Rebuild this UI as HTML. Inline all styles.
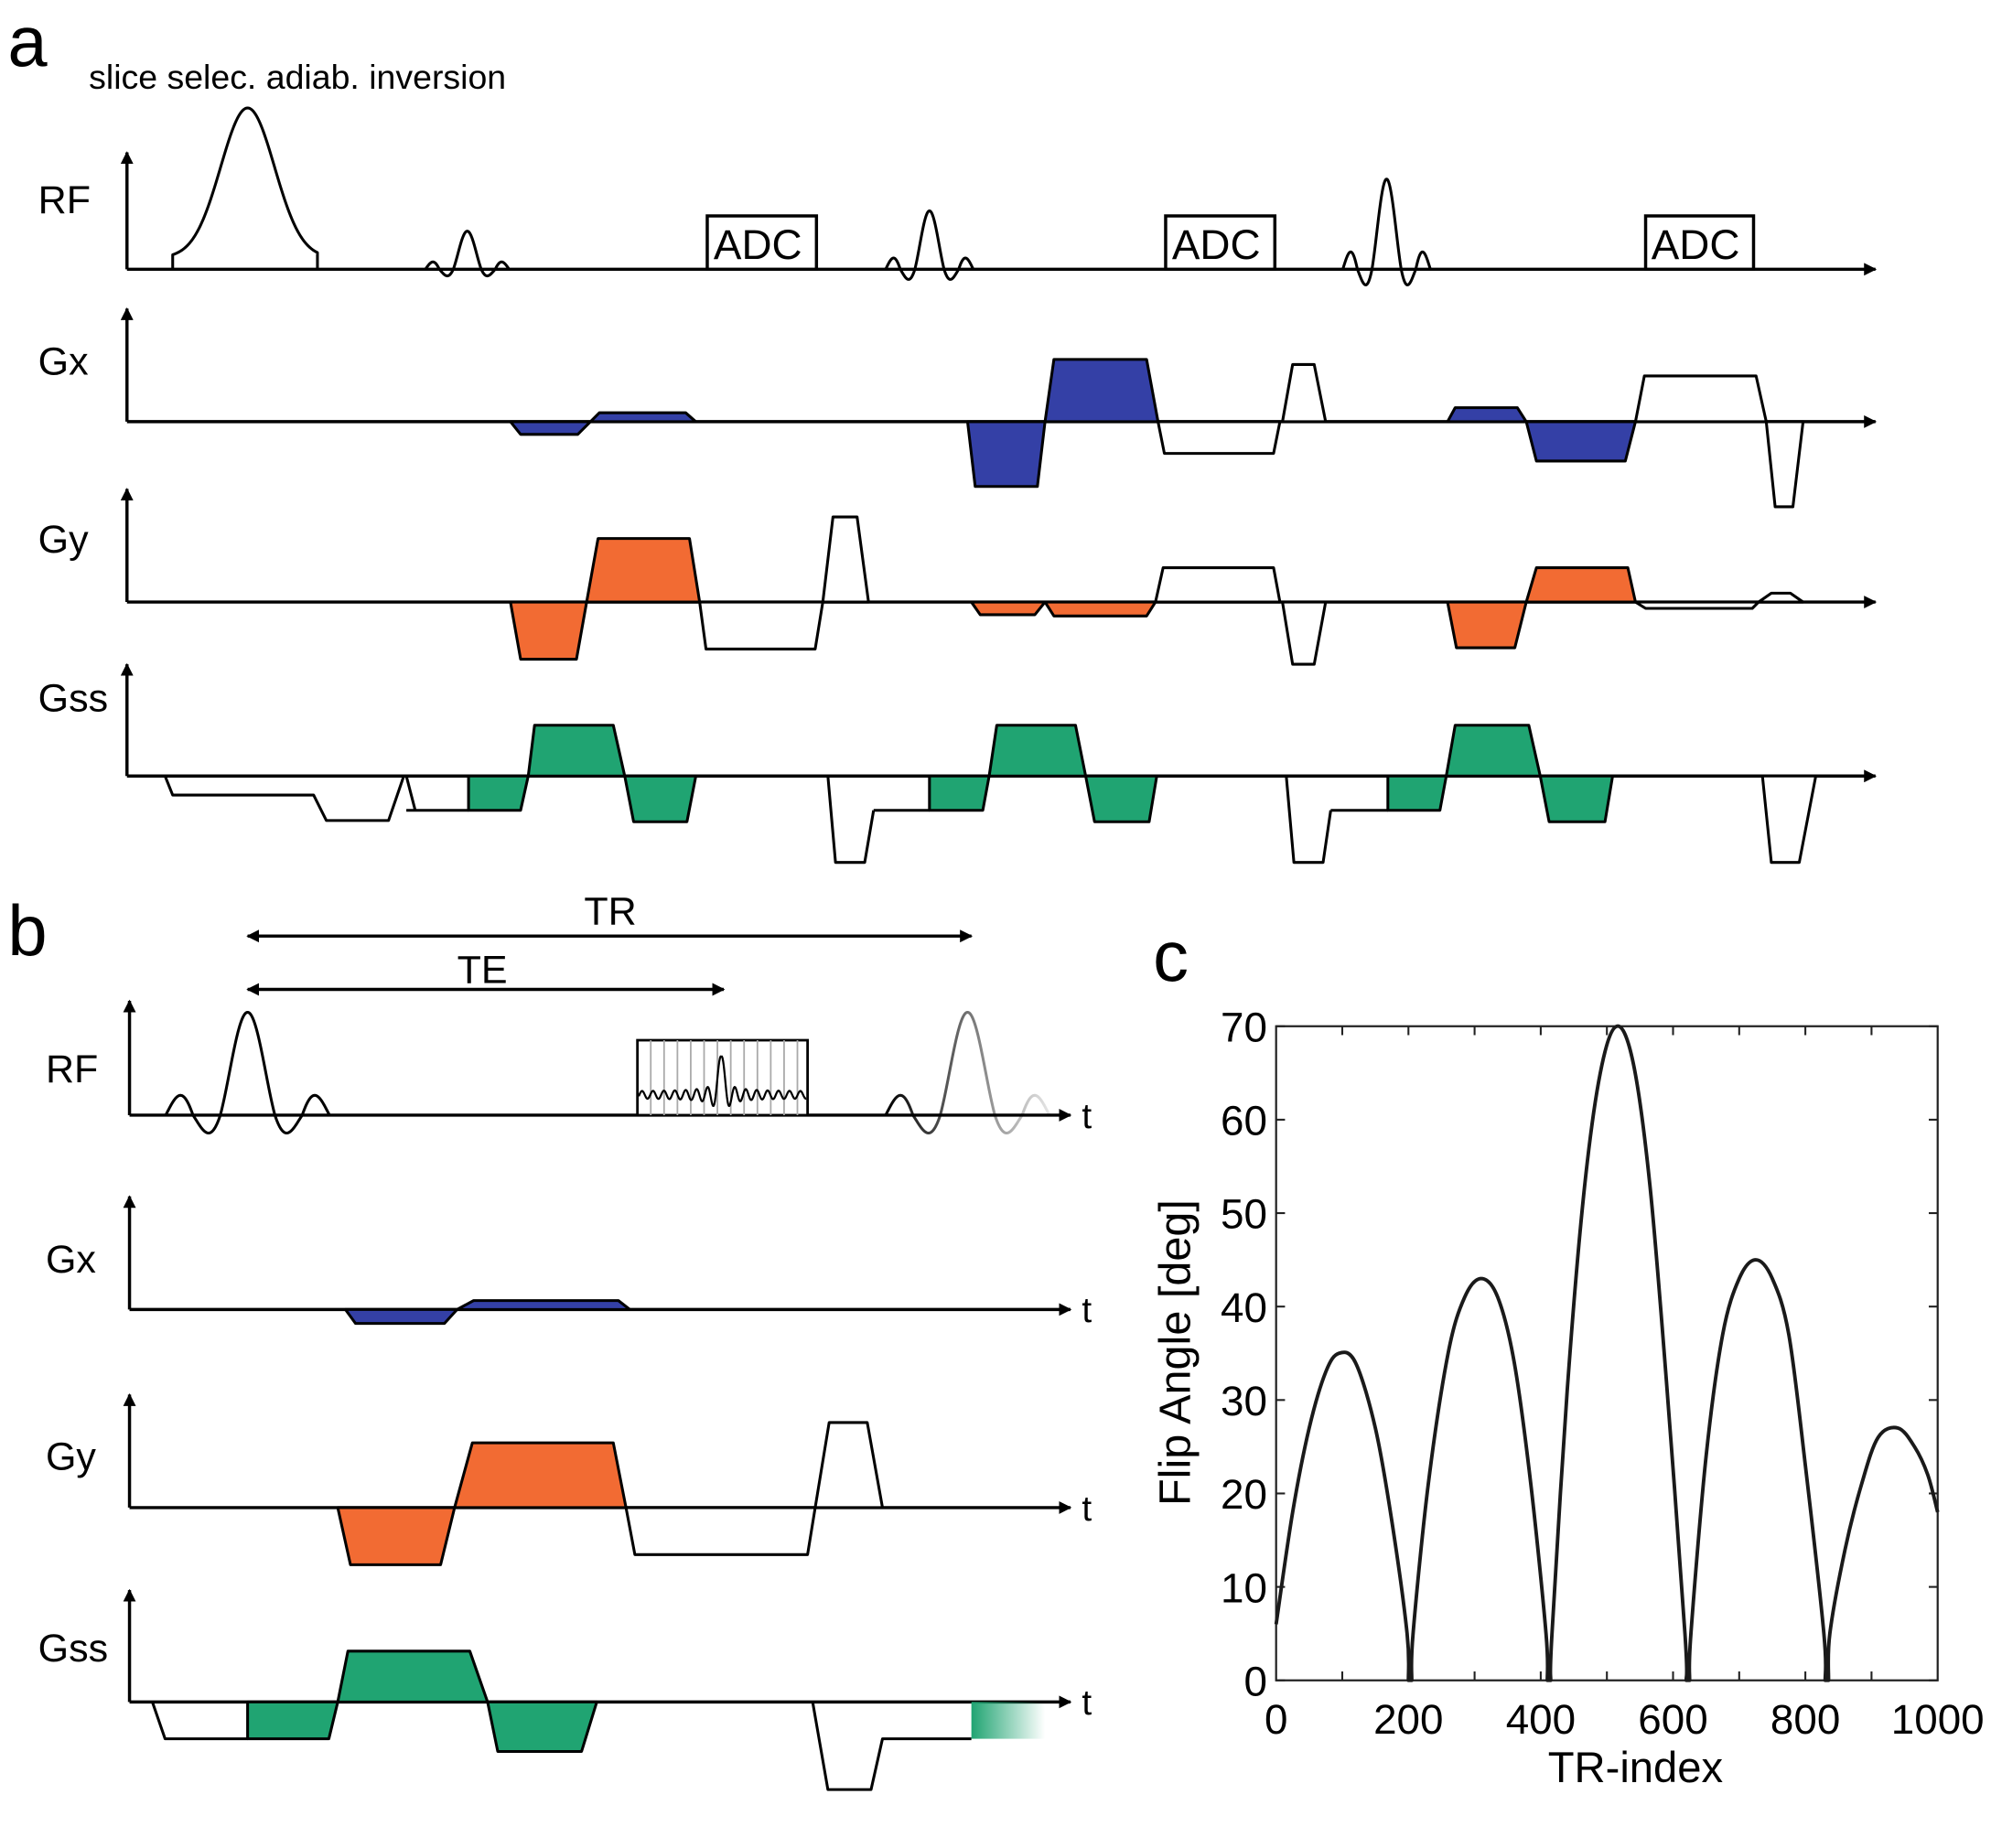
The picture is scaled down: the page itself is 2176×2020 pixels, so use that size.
<!DOCTYPE html>
<html><head><meta charset="utf-8"><style>
html,body{margin:0;padding:0;background:#fff}
svg{display:block;font-family:"Liberation Sans",Arial,sans-serif}
</style></head><body>
<svg id="fig" width="2176" height="2020" viewBox="0 0 1568 1455" preserveAspectRatio="none" xmlns="http://www.w3.org/2000/svg">
<defs>
<marker id="ar" markerWidth="10" markerHeight="10" refX="9" refY="5" orient="auto" markerUnits="userSpaceOnUse"><path d="M0,0 L10,5 L0,10 z" fill="#000"/></marker>
<marker id="al" markerWidth="10" markerHeight="10" refX="1" refY="5" orient="auto" markerUnits="userSpaceOnUse"><path d="M10,0 L0,5 L10,10 z" fill="#000"/></marker>
<linearGradient id="fadeG" x1="0" x2="1"><stop offset="0" stop-color="#20a472"/><stop offset="1" stop-color="#20a472" stop-opacity="0"/></linearGradient>
<linearGradient id="fadeK" x1="0" x2="1"><stop offset="0" stop-color="#000"/><stop offset="1" stop-color="#000" stop-opacity="0.1"/></linearGradient>
</defs>
<g id="pa"></g>
<g id="pb"></g>
<g id="pc"></g>
</svg>
<script>
// Panel c data
const trIndex = [0,25,50,75,95,120,150,175,198,200,205,207,230,260,285,310,335,360,385,408,410,415,417,440,465,490,515,540,565,590,618,620,625,627,650,675,700,725,750,775,800,828,830,835,837,860,885,910,940,965,985,1000];
const flipAngle = [6,18,27,33,35,34,27,17,5,0,0,5,21,35,41,43,41,34,21,5,0,0,5,31,52,65,70,66,53,32,5,0,0,5,24,37,43,45,43,37,23,5,0,0,5,14,21,26,27,25,22,18];
const xTickLabels = [0,200,400,600,800,1000];
const yTickLabels = [0,10,20,30,40,50,60,70];

const NS="http://www.w3.org/2000/svg";
function mk(parent,tag,attrs,name,text){
  const e=document.createElementNS(NS,tag);
  for(const k in attrs)e.setAttribute(k,attrs[k]);
  
  
  if(text!==undefined)e.textContent=text;
  parent.appendChild(e);return e;
}
const BLUE="#3440a6",ORANGE="#f26b33",GREEN="#20a472";
const pa=document.getElementById('pa'),pb=document.getElementById('pb'),pc=document.getElementById('pc');

function axis(g,x0,y0,top,xend,name,tlabel){
  mk(g,'line',{x1:x0,y1:y0,x2:x0,y2:top,stroke:'#000','stroke-width':2.5,'marker-end':'url(#ar)'},name+'-y-axis');
  mk(g,'line',{x1:x0,y1:y0,x2:xend,y2:y0,stroke:'#000','stroke-width':2.5,'marker-end':'url(#ar)'},name+'-time-axis');
  if(tlabel)mk(g,'text',{x:xend+9,y:y0+10,'font-size':28},name+'-t-label','t');
}
function poly(g,pts,fill,name){
  mk(g,'polygon',{points:pts.map(p=>p.join(',')).join(' '),fill:fill,stroke:'#000','stroke-width':2.2,'stroke-linejoin':'round'},name);
}
function pline(g,pts,name,extra){
  const a={points:pts.map(p=>p.join(',')).join(' '),fill:'none',stroke:'#000','stroke-width':2.2,'stroke-linejoin':'round'};
  Object.assign(a,extra||{});
  mk(g,'polyline',a,name);
}
function sinc(g,cx,base,A,w,name,extra){
  const pts=[];const L=3*w;
  for(let x=-L;x<=L;x+=0.5){const u=x/w;const au=Math.abs(u);let s=u===0?1:Math.sin(Math.PI*u)/(Math.PI*u);
    s*= au<=1?1:(au<=2?0.8:1.5);pts.push([cx+x,base-A*s]);}
  pline(g,pts,name,extra);
}
function lbl(g,x,y,s,t,name){mk(g,'text',{x:x,y:y,'font-size':s},name,t);}

// ---------- Panel a ----------
lbl(pa,6,52,56,'a','panel-a-letter');
lbl(pa,70,70,27,'slice selec. adiab. inversion','inversion-label');
lbl(pa,30,168,31,'RF','a-rf-label');lbl(pa,30,295,31,'Gx','a-gx-label');
lbl(pa,30,435,31,'Gy','a-gy-label');lbl(pa,30,560,31,'Gss','a-gss-label');
axis(pa,100,212,120,1477,'a-rf');axis(pa,100,332,243,1477,'a-gx');
axis(pa,100,474,385,1477,'a-gy');axis(pa,100,611,523,1477,'a-gss');
(function(){const p=[[136,212],[136,203]];for(let x=136;x<=250;x+=1)p.push([x,203-118*Math.exp(-Math.pow((x-195)/30,2))]);p.push([250,212]);pline(pa,p,'adiabatic-inversion-pulse');})();
sinc(pa,368,212,30,11,'a-rf-pulse-1');sinc(pa,732,212,46,11.5,'a-rf-pulse-2');sinc(pa,1092,212,71,11.5,'a-rf-pulse-3');
[[557,643],[918,1004],[1296,1381]].forEach((b,i)=>{
  mk(pa,'rect',{x:b[0],y:170,width:b[1]-b[0],height:42,fill:'#fff',stroke:'#000','stroke-width':2.5},'adc-box-'+(i+1));
  lbl(pa,(b[0]+b[1])/2-38,204,33,'ADC','adc-label-'+(i+1));
});
poly(pa,[[402,332],[410,342],[455,342],[465,332]],BLUE,'a-gx-prephase-1');
poly(pa,[[465,332],[472,325],[540,325],[548,332]],BLUE,'a-gx-rewind-1');
poly(pa,[[762,332],[768,383],[817,383],[823,332]],BLUE,'a-gx-prephase-2');
poly(pa,[[823,332],[830,283],[903,283],[912,332]],BLUE,'a-gx-rewind-2');
poly(pa,[[912,332],[917,357],[1003,357],[1008,332]],'#fff','a-gx-readout-2');
poly(pa,[[1010,332],[1018,287],[1035,287],[1044,332]],'#fff','a-gx-spoiler-2');
poly(pa,[[1140,332],[1146,321],[1195,321],[1202,332]],BLUE,'a-gx-prephase-3');
poly(pa,[[1202,332],[1210,363],[1280,363],[1288,332]],BLUE,'a-gx-rewind-3');
poly(pa,[[1288,332],[1295,296],[1383,296],[1391,332]],'#fff','a-gx-readout-3');
poly(pa,[[1391,332],[1398,399],[1412,399],[1420,332]],'#fff','a-gx-spoiler-3');
poly(pa,[[402,474],[410,519],[454,519],[462,474]],ORANGE,'a-gy-prephase-1');
poly(pa,[[462,474],[471,424],[543,424],[551,474]],ORANGE,'a-gy-rewind-1');
poly(pa,[[551,474],[556,511],[642,511],[648,474]],'#fff','a-gy-readout-1');
poly(pa,[[648,474],[656,407],[675,407],[684,474]],'#fff','a-gy-spoiler-1');
poly(pa,[[765,474],[772,484],[815,484],[823,474]],ORANGE,'a-gy-prephase-2');
poly(pa,[[823,474],[830,485],[903,485],[910,474]],ORANGE,'a-gy-rewind-2');
poly(pa,[[910,474],[916,447],[1003,447],[1008,474]],'#fff','a-gy-readout-2');
poly(pa,[[1010,474],[1018,523],[1035,523],[1044,474]],'#fff','a-gy-spoiler-2');
poly(pa,[[1140,474],[1147,510],[1193,510],[1202,474]],ORANGE,'a-gy-prephase-3');
poly(pa,[[1202,474],[1210,447],[1282,447],[1288,474]],ORANGE,'a-gy-rewind-3');
poly(pa,[[1288,474],[1296,479],[1380,479],[1385,474]],'#fff','a-gy-readout-3');
poly(pa,[[1385,474],[1395,467],[1410,467],[1420,474]],'#fff','a-gy-spoiler-3');
pline(pa,[[130,611],[136,626],[247,626],[257,646],[306,646],[318,611]],'a-gss-inversion-gradient');
[[320,369,410,416,421,483,492,499,541,548],[688,732,774,779,785,847,855,862,905,911],[1048,1093,1134,1139,1146,1204,1213,1220,1264,1270]].forEach((s,i)=>{
  pline(pa,[[s[0],638],[s[1],638]],'a-gss-spoil-flat-'+(i+1));
  poly(pa,[[s[1],611],[s[1],638],[s[2],638],[s[3],611]],GREEN,'a-gss-rephase-'+(i+1));
  poly(pa,[[s[3],611],[s[4],571],[s[5],571],[s[6],611]],GREEN,'a-gss-slice-select-'+(i+1));
  poly(pa,[[s[6],611],[s[7],647],[s[8],647],[s[9],611]],GREEN,'a-gss-refocus-'+(i+1));
});
pline(pa,[[320,611],[327,638]],'a-gss-ramp-1');
pline(pa,[[652,611],[658,679],[681,679],[688,638]],'a-gss-spoiler-2');
pline(pa,[[1013,611],[1019,679],[1042,679],[1048,638]],'a-gss-spoiler-3');
poly(pa,[[1388,611],[1395,679],[1417,679],[1430,611]],'#fff','a-gss-spoiler-4');

// ---------- Panel b ----------
lbl(pb,6,752,56,'b','panel-b-letter');
mk(pb,'line',{x1:195,y1:737,x2:765,y2:737,stroke:'#000','stroke-width':2.5,'marker-start':'url(#al)','marker-end':'url(#ar)'},'tr-arrow');
lbl(pb,460,728,31,'TR','tr-label');
mk(pb,'line',{x1:195,y1:779,x2:570,y2:779,stroke:'#000','stroke-width':2.5,'marker-start':'url(#al)','marker-end':'url(#ar)'},'te-arrow');
lbl(pb,360,774,31,'TE','te-label');
lbl(pb,36,852,31,'RF','b-rf-label');lbl(pb,36,1002,31,'Gx','b-gx-label');
lbl(pb,36,1157,31,'Gy','b-gy-label');lbl(pb,30,1308,31,'Gss','b-gss-label');
axis(pb,102,878,788,843,'b-rf',true);axis(pb,102,1031,942,843,'b-gx',true);
axis(pb,102,1187,1098,843,'b-gy',true);axis(pb,102,1340,1252,843,'b-gss',true);
sinc(pb,195,878,81,21.5,'b-rf-pulse');
sinc(pb,762,878,81,21.5,'b-rf-pulse-next',{stroke:'url(#fadeK)'});
mk(pb,'rect',{x:502,y:819,width:134,height:59,fill:'#fff',stroke:'#000','stroke-width':2},'adc-window');
for(let i=1;i<13;i++)mk(pb,'line',{x1:502+i*10.5,y1:819,x2:502+i*10.5,y2:878,stroke:'#aaa','stroke-width':1.3},'adc-sample-line');
(function(){const p=[];for(let x=503;x<=635;x+=0.5){const u=(x-568)/4.3;const s=u===0?1:Math.sin(Math.PI*u)/(Math.PI*u);p.push([x,862-30*s*(1+0.25*Math.abs(u))]);}pline(pb,p,'echo-signal',{'stroke-width':1.6});})();
poly(pb,[[272,1031],[280,1042],[350,1042],[360,1031]],BLUE,'b-gx-prephase');
poly(pb,[[360,1031],[373,1024],[487,1024],[496,1031]],BLUE,'b-gx-rewind');
poly(pb,[[266,1187],[276,1232],[347,1232],[358,1187]],ORANGE,'b-gy-prephase');
poly(pb,[[358,1187],[372,1136],[483,1136],[493,1187]],ORANGE,'b-gy-rewind');
poly(pb,[[493,1187],[500,1224],[636,1224],[642,1187]],'#fff','b-gy-readout');
poly(pb,[[642,1187],[653,1120],[683,1120],[695,1187]],'#fff','b-gy-spoiler');
pline(pb,[[120,1340],[130,1369],[195,1369]],'b-gss-spoil');
poly(pb,[[195,1340],[195,1369],[259,1369],[266,1340]],GREEN,'b-gss-rephase');
poly(pb,[[266,1340],[274,1300],[370,1300],[384,1340]],GREEN,'b-gss-slice-select');
poly(pb,[[384,1340],[392,1379],[458,1379],[470,1340]],GREEN,'b-gss-refocus');
pline(pb,[[640,1340],[652,1409],[686,1409],[695,1369],[765,1369]],'b-gss-spoiler');
mk(pb,'rect',{x:765,y:1340,width:58,height:29,fill:'url(#fadeG)'},'b-gss-next-rephase');
mk(pb,'line',{x1:765,y1:1369,x2:823,y2:1369,stroke:'url(#fadeK)','stroke-width':2.2},'b-gss-next-line');

// ---------- Panel c ----------
lbl(pc,908,772,56,'c','panel-c-letter');
const X0=1005,X1=1526,Y0=1323,Y1=808;
const sx=v=>X0+(X1-X0)*v/1000, sy=v=>Y0-(Y0-Y1)*v/70;
mk(pc,'rect',{x:X0,y:Y1,width:X1-X0,height:Y0-Y1,fill:'none',stroke:'#222','stroke-width':1.6},'plot-frame');
for(let v=100;v<1000;v+=100){
  mk(pc,'line',{x1:sx(v),y1:Y0,x2:sx(v),y2:Y0-7,stroke:'#222','stroke-width':1.5},'x-tick');
  mk(pc,'line',{x1:sx(v),y1:Y1,x2:sx(v),y2:Y1+7,stroke:'#222','stroke-width':1.5},'x-tick-top');
}
yTickLabels.forEach(v=>{
  mk(pc,'line',{x1:X0,y1:sy(v),x2:X0+7,y2:sy(v),stroke:'#222','stroke-width':1.5},'y-tick');
  mk(pc,'line',{x1:X1,y1:sy(v),x2:X1-7,y2:sy(v),stroke:'#222','stroke-width':1.5},'y-tick-right');
  mk(pc,'text',{x:X0-7,y:sy(v)+12,'font-size':33,'text-anchor':'end'},'y-tick-label',String(v));
});
xTickLabels.forEach(v=>{
  mk(pc,'text',{x:sx(v),y:Y0+42,'font-size':33,'text-anchor':'middle'},'x-tick-label',String(v));
});
mk(pc,'text',{x:1288,y:1403,'font-size':34,'text-anchor':'middle'},'x-axis-title','TR-index');
mk(pc,'text',{x:0,y:0,'font-size':35,'text-anchor':'middle',transform:'translate(937,1065) rotate(-90)'},'y-axis-title','Flip Angle [deg]');
(function(){
  const P=trIndex.map((t,i)=>[sx(t),sy(flipAngle[i])]);
  const segs=[];let cur=[P[0]];
  for(let i=1;i<P.length;i++){
    if(flipAngle[i]===0&&flipAngle[i-1]===0){segs.push(cur);cur=[P[i-1],P[i]];segs.push(cur);cur=[P[i]];}
    else cur.push(P[i]);
  }
  segs.push(cur);
  let d='M'+P[0][0]+','+P[0][1];
  segs.forEach(s=>{
    if(s.length<2)return;
    for(let i=0;i<s.length-1;i++){
      const p0=s[i-1]||s[i],p1=s[i],p2=s[i+1],p3=s[i+2]||s[i+1];
      const c1=[p1[0]+(p2[0]-p0[0])/6,p1[1]+(p2[1]-p0[1])/6];
      const c2=[p2[0]-(p3[0]-p1[0])/6,p2[1]-(p3[1]-p1[1])/6];
      d+=' C'+c1.join(',')+' '+c2.join(',')+' '+p2.join(',');
    }
  });
  mk(pc,'path',{d:d,fill:'none',stroke:'#1a1a1a','stroke-width':2.8,'stroke-linejoin':'round'},'flip-angle-line');
})();
</script>
</body></html>
